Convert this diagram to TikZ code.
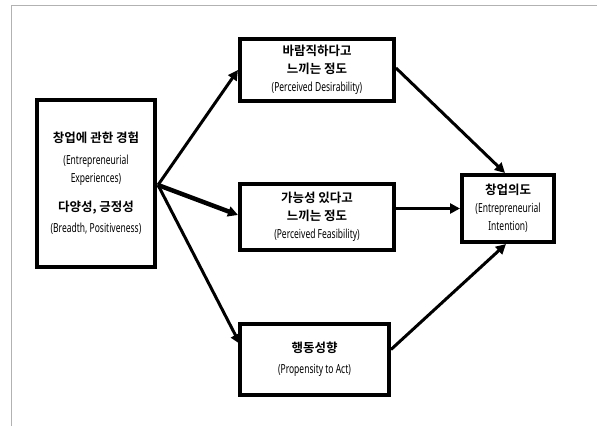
\documentclass[tikz,border=0pt]{standalone}
\usepackage{fontspec}
\setmainfont{Noto Sans CJK KR}
\newfontfamily\kor{Noto Sans CJK KR}[BoldFont={* Bold}]
\newfontfamily\engc{Noto Sans}[FakeStretch=0.68]
\usetikzlibrary{arrows.meta,calc,shadows}
\tikzset{
  boxnode/.style={draw=black, line width=4pt, fill=white, align=center, inner sep=0pt,
    font=\fontsize{12}{18}\selectfont,
    drop shadow={shadow xshift=1pt, shadow yshift=-1.5pt, opacity=0.35, fill=black}},
  conn/.style={line width=3pt, -{Triangle[length=10pt,width=10pt]}},
}
\newcommand{\en}[1]{{\engc\fontsize{12.5}{18}\selectfont #1}}
\newcommand{\kb}[1]{{\kor\bfseries\fontsize{12.5}{18}\selectfont #1}}
\begin{document}
\begin{tikzpicture}[x=1pt,y=-1pt]
\useasboundingbox (0,0) rectangle (597,426);
\draw[line width=1.5pt, draw=black!30] (11.5,426) -- (11.5,5.5) -- (597,5.5);
% boxes
\node[boxnode, minimum width=118pt, minimum height=167pt] (L) at (96,183.5)
  {\kb{창업에 관한 경험}\\[4pt]\en{(Entrepreneurial}\\\en{Experiences)}\\[11pt]\kb{다양성, 긍정성}\\[3pt]\en{(Breadth, Positiveness)}};
\node[boxnode, minimum width=154pt, minimum height=62pt] (T) at (317,70)
  {\kb{바람직하다고}\\\kb{느끼는 정도}\\\en{(Perceived Desirability)}};
\node[boxnode, minimum width=154pt, minimum height=66pt] (M) at (317,217)
  {\kb{가능성 있다고}\\\kb{느끼는 정도}\\\en{(Perceived Feasibility)}};
\node[boxnode, minimum width=149pt, minimum height=71pt] (B) at (314.5,359.5)
  {\kb{행동성향}\\[3pt]\en{(Propensity to Act)}};
\node[boxnode, minimum width=92pt, minimum height=67pt] (R) at (508,208.5)
  {\kb{창업의도}\\\en{(Entrepreneurial}\\\en{Intention)}};
% connectors
\coordinate (S) at ($(L.east)+(1,1.5)$);
\draw[conn] (S) -- (T.west);
\draw[conn, line width=4.5pt] (S) -- ($(M.west)+(0,-2)$);
\draw[conn] (S) -- ($(B.north west)+(2,22)$);
\draw[conn] ($(T.east)+(0,-2)$) -- ($(R.north)+(-3,0)$);
\draw[conn] (M.east |- R.west) -- (R.west);
\draw[conn] ($(B.east)+(0,-10)$) -- ($(R.south)+(-2,0)$);
\end{tikzpicture}
\end{document}
